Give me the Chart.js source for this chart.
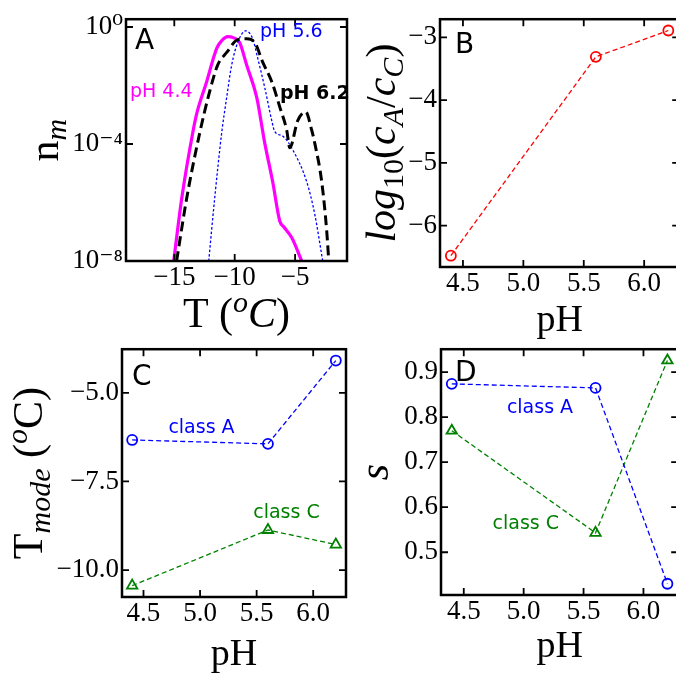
<!DOCTYPE html>
<html><head><meta charset="utf-8">
<script src="https://cdn.jsdelivr.net/npm/chart.js@4.4.0/dist/chart.umd.min.js"></script>
<style>
html,body{margin:0;padding:0;background:#fff;overflow:hidden;width:676px;height:673px;position:relative;}
.p{position:absolute;}
canvas{display:block;}
</style></head><body>
<div class="p" style="left:0;top:0"><canvas id="cA" width="360" height="340"></canvas></div>
<div class="p" style="left:340px;top:0"><canvas id="cB" width="346" height="340"></canvas></div>
<div class="p" style="left:0;top:330px"><canvas id="cC" width="360" height="343"></canvas></div>
<div class="p" style="left:340px;top:330px"><canvas id="cD" width="346" height="343"></canvas></div>
<script>
// ---------- Panel A data: n_m vs T ----------
const T_44 = [-15.05,-14.39,-13.48,-13.15,-12.32,-11.49,-11.08,-10.58,-10.08,-9.59,-9.01,-8.18,-7.51,-6.85,-6.27,-5.94,-5.28,-4.45];
const n_44 = [1e-8,1.35e-6,2.34e-4,1.07e-3,1.35e-2,0.186,0.339,0.468,0.427,0.295,0.0501,3.98e-3,1.07e-4,5.01e-6,2.34e-7,1.48e-7,6.31e-8,1e-8];
const T_56 = [-12.15,-11.66,-11.08,-10.66,-10.25,-9.75,-9.09,-8.51,-8.09,-7.51,-6.93,-6.69,-6.02,-5.19,-4.03,-3.37,-2.71];
const n_56 = [1e-8,1.35e-6,2.34e-4,3.98e-3,0.0501,0.295,0.741,0.398,0.0851,8.51e-3,6.31e-4,2.69e-4,1.86e-4,6.31e-5,5.01e-6,3.98e-7,1e-8];
const T_62 = [-14.81,-13.98,-12.90,-12.07,-11.41,-10.66,-9.75,-9.0,-8.34,-7.68,-6.93,-6.27,-5.69,-5.44,-4.78,-4.12,-3.62,-3.37,-2.79,-2.38,-2.21];
const n_62 = [1e-8,1.35e-6,2.34e-4,6.31e-3,0.0501,0.135,0.372,0.398,0.295,0.0631,0.0135,1.86e-3,2.95e-4,7.41e-5,6.31e-4,1.26e-3,2.95e-4,1.07e-4,5.01e-6,1.07e-7,1e-8];
// ---------- Panels B, C, D ----------
const pH = [4.4, 5.6, 6.2];
const logRatio = [-6.48, -3.31, -2.89];
const Tmode_A = [-6.33, -6.44, -4.09];
const Tmode_C = [-10.44, -8.87, -9.28];
const s_A = [0.874, 0.865, 0.43];
const s_C = [0.77, 0.543, 0.926];
// ---------- Tick values ----------
const ticksA_x = [-15, -10, -5];
const ticksA_y = [1e-8, 1e-4, 1];
const ticksPH = [4.5, 5.0, 5.5, 6.0];
const ticksB_y = [-6, -5, -4, -3];
const ticksC_y = [-10, -7.5, -5];
const ticksD_y = [0.5, 0.6, 0.7, 0.8, 0.9];

const SERIF = "'Liberation Serif', 'DejaVu Serif', serif";
const SANS = "'DejaVu Sans', sans-serif";
Chart.defaults.font.family = SERIF;
Chart.defaults.font.size = 27;
Chart.defaults.color = '#000';
const MINUS = '\u2212';
const fmt = d => v => (v < 0 ? MINUS : '') + Math.abs(v).toFixed(d);
const SUP = {'0':'\u2070','1':'\u00b9','2':'\u00b2','3':'\u00b3','4':'\u2074','5':'\u2075','6':'\u2076','7':'\u2077','8':'\u2078','9':'\u2079','-':'\u207b'};
const logFmt = v => '10' + String(Math.round(Math.log10(v))).split('').map(c => SUP[c]).join('');

function fontOf(r){ return (r.it ? 'italic ' : '') + (r.b ? 'bold ' : '') + r.s + 'px ' + (r.f || SERIF); }
function drawRich(ctx, x, y, runs, rot){
  ctx.save(); ctx.translate(x, y); if (rot) ctx.rotate(rot);
  ctx.textAlign = 'left'; ctx.textBaseline = 'alphabetic'; ctx.fillStyle = '#000';
  let w = 0;
  runs.forEach(r => { ctx.font = fontOf(r); r.w = ctx.measureText(r.t).width; w += r.w; });
  let cx = -w / 2;
  runs.forEach(r => { ctx.font = fontOf(r); ctx.fillText(r.t, cx, r.dy || 0); cx += r.w; });
  ctx.restore();
}

const PH_TITLE = [{t:'pH', s:38}];
const DECO = {
  cA: { letter:'A', lx:9, ly:30, xDy:66, yDx:68,
        xTitle:[{t:'T (',s:42},{t:'o',s:30,it:1,dy:-15},{t:'C',s:42,it:1},{t:')',s:42}],
        yTitle:[{t:'n',s:42},{t:'m',s:30,it:1,dy:8}],
        notes:[{text:'pH 4.4',x:-18.67,y:4.0e-3,color:'#ff00ff'},
               {text:'pH 5.6',x:-7.90,y:0.46,color:'#0000ff'},
               {text:'pH 6.2',x:-6.25,y:3.4e-3,color:'#000000',bold:true}] },
  cB: { letter:'B', lx:15, ly:34, xDy:64, yDx:45, xTitle:PH_TITLE,
        yTitle:[{t:'log',s:42,it:1},{t:'10',s:30,dy:8},{t:'(',s:42},{t:'c',s:42,it:1},{t:'A',s:30,it:1,dy:8},{t:'/',s:42},{t:'c',s:42,it:1},{t:'C',s:30,it:1,dy:8},{t:')',s:42}],
        notes:[] },
  cC: { letter:'C', lx:10, ly:36, xDy:68, yDx:80, xTitle:PH_TITLE,
        yTitle:[{t:'T',s:42},{t:'mode',s:30,it:1,dy:8},{t:' (',s:42},{t:'o',s:30,it:1,dy:-15},{t:'C)',s:42}],
        notes:[{text:'class A',x:4.72,y:-6.13,color:'#0000ff'},
               {text:'class C',x:5.47,y:-8.54,color:'#008000'}] },
  cD: { letter:'D', lx:14, ly:32, xDy:62, yDx:53, xTitle:PH_TITLE,
        yTitle:[{t:'s',s:42,it:1}],
        notes:[{text:'class A',x:4.86,y:0.81,color:'#0000ff'},
               {text:'class C',x:4.74,y:0.551,color:'#008000'}] }
};

const deco = { id:'deco', afterDraw(chart){
  const o = DECO[chart.canvas.id]; if (!o) return;
  const ctx = chart.ctx, a = chart.chartArea, xs = chart.scales.x, ys = chart.scales.y;
  ctx.save();
  ctx.strokeStyle = '#000'; ctx.lineWidth = 1.8; ctx.beginPath();
  xs.ticks.forEach(t => { const p = xs.getPixelForValue(t.value);
    ctx.moveTo(p, a.bottom); ctx.lineTo(p, a.bottom - 7); ctx.moveTo(p, a.top); ctx.lineTo(p, a.top + 7); });
  ys.ticks.forEach(t => { const p = ys.getPixelForValue(t.value);
    ctx.moveTo(a.left, p); ctx.lineTo(a.left + 7, p); ctx.moveTo(a.right, p); ctx.lineTo(a.right - 7, p); });
  ctx.stroke();
  ctx.lineWidth = 2.5; ctx.strokeRect(a.left, a.top, a.right - a.left, a.bottom - a.top);
  ctx.fillStyle = '#000'; ctx.textAlign = 'left'; ctx.textBaseline = 'alphabetic';
  ctx.font = '28px ' + SANS;
  ctx.fillText(o.letter, a.left + o.lx, a.top + o.ly);
  o.notes.forEach(n => {
    ctx.fillStyle = n.color; ctx.font = (n.bold ? 'bold ' : '') + '19px ' + SANS;
    ctx.fillText(n.text, xs.getPixelForValue(n.x), ys.getPixelForValue(n.y));
  });
  drawRich(ctx, (a.left + a.right) / 2, a.bottom + o.xDy, o.xTitle, 0);
  drawRich(ctx, a.left - o.yDx, (a.top + a.bottom) / 2, o.yTitle, -Math.PI / 2);
  ctx.restore();
}};

function scaleCfg(axis, c){
  return {
    type: c.type || 'linear', position: axis === 'x' ? 'bottom' : 'left',
    min: c.min, max: c.max,
    grid: {display:false, drawTicks:false}, border: {display:false},
    ticks: {autoSkip:false, maxRotation:0, minRotation:0, padding:c.pad, color:'#000',
            font:{family:SERIF, size:27}, callback: c.fmt},
    afterBuildTicks: s => { s.ticks = c.ticks.map(v => ({value:v})); },
    afterFit: s => { if (axis === 'x') s.height = c.size; else s.width = c.size; }
  };
}

function makeChart(id, pad, scales, datasets){
  return new Chart(document.getElementById(id), {
    type:'line',
    data:{datasets},
    options:{
      responsive:false, animation:false, events:[],
      layout:{padding:{left:0, top:pad.T, right:pad.R, bottom:0}},
      scales,
      plugins:{legend:{display:false}, tooltip:{enabled:false}}
    },
    plugins:[deco]
  });
}

const pts = (xs, ys) => xs.map((x, i) => ({x, y: ys[i]}));
function curve(xs, ys, color, width, dash){
  return {data: pts(xs, ys), borderColor: color, borderWidth: width, borderDash: dash,
          pointRadius: 0, fill: false, cubicInterpolationMode: 'monotone'};
}
function series(ys, color, style){
  return {data: pts(pH, ys), borderColor: color, borderWidth: 1.3, borderDash: [5, 3],
          pointStyle: style, pointRadius: style === 'triangle' ? 6 : 5, pointBorderWidth: 1.8,
          pointBorderColor: color, pointBackgroundColor: 'rgba(0,0,0,0)', fill: false, tension: 0, clip: false};
}

// Panel A
makeChart('cA', {T:13, R:13}, {
  x: scaleCfg('x', {min:-19, max:-0.7, ticks:ticksA_x, fmt:fmt(0), size:79, pad:1}),
  y: scaleCfg('y', {type:'logarithmic', min:1e-8, max:1.85, ticks:ticksA_y, fmt:logFmt, size:126, pad:3})
}, [
  curve(T_62, n_62, '#000000', 3, [10, 5]),
  curve(T_56, n_56, '#0000ff', 1.3, [2.5, 2]),
  curve(T_44, n_44, '#ff00ff', 3.2, [])
]);

// Panel B
makeChart('cB', {T:14, R:6}, {
  x: scaleCfg('x', {min:4.31, max:6.29, ticks:ticksPH, fmt:fmt(1), size:73, pad:1}),
  y: scaleCfg('y', {min:-6.66, max:-2.71, ticks:ticksB_y, fmt:fmt(0), size:100, pad:3})
}, [ series(logRatio, '#ff0000', 'circle') ]);

// Panel C
makeChart('cC', {T:14, R:14}, {
  x: scaleCfg('x', {min:4.31, max:6.29, ticks:ticksPH, fmt:fmt(1), size:76, pad:1}),
  y: scaleCfg('y', {min:-10.76, max:-3.77, ticks:ticksC_y, fmt:fmt(1), size:122, pad:3})
}, [ series(Tmode_A, '#0000ff', 'circle'), series(Tmode_C, '#008000', 'triangle') ]);

// Panel D
makeChart('cD', {T:13, R:6}, {
  x: scaleCfg('x', {min:4.31, max:6.29, ticks:ticksPH, fmt:fmt(1), size:78, pad:1}),
  y: scaleCfg('y', {min:0.405, max:0.951, ticks:ticksD_y, fmt:fmt(1), size:101, pad:3})
}, [ series(s_A, '#0000ff', 'circle'), series(s_C, '#008000', 'triangle') ]);
</script>
</body></html>
